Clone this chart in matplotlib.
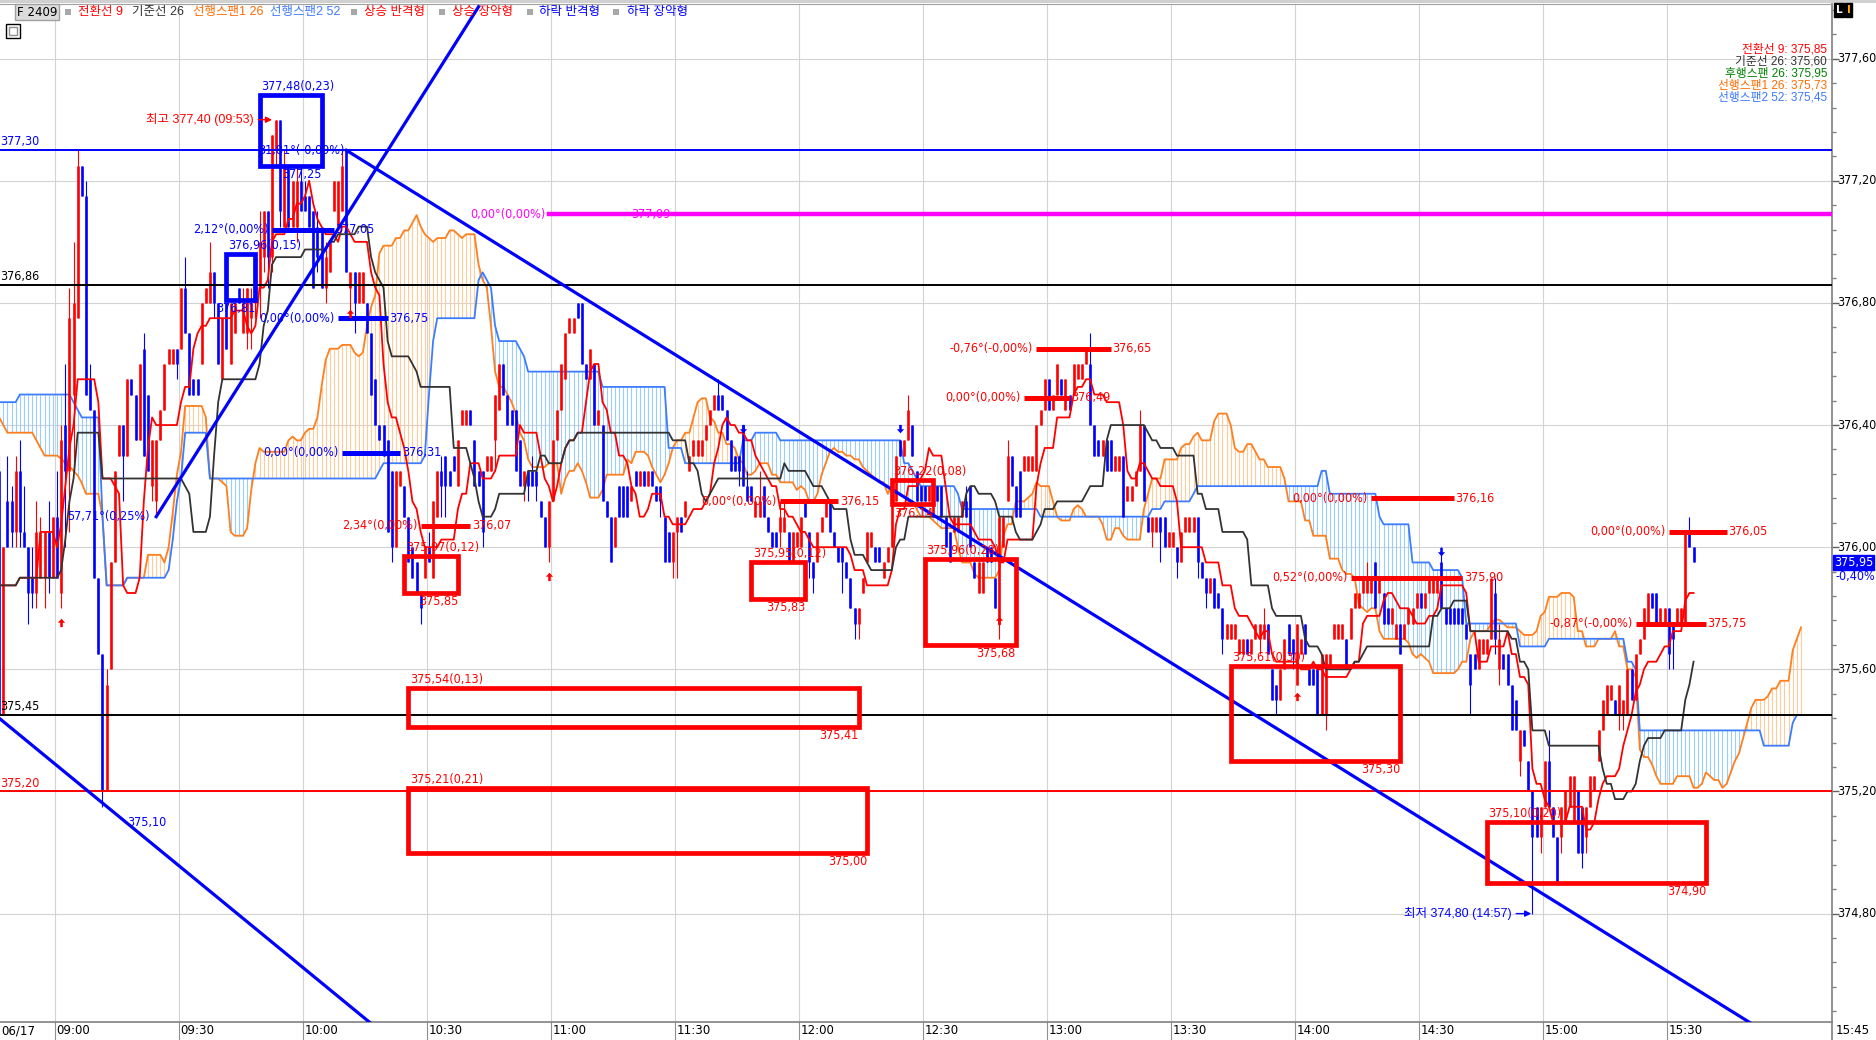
import numpy as np
import pandas as pd
import matplotlib
matplotlib.use("Agg")
import matplotlib.pyplot as plt
from matplotlib import font_manager
from matplotlib.font_manager import FontProperties
from matplotlib.patches import Rectangle
from matplotlib.ticker import MultipleLocator
from matplotlib.transforms import blended_transform_factory

# F 2409, 06/17, one-minute bars from 08:45.
# prices are kept as ticks of 0.05 above 374.00
PRICE_BASE = 374.00
TICK = 0.05
SESSION_START = "08:45"

opens = [
    42, 45, 29, 43, 43, 41, 45, 41, 40, 38, 37, 38, 38, 41, 38,  # 08:45
    42, 37, 48, 45, 50, 55, 65, 63, 51, 49, 38, 33, 24, 32, 39,  # 09:00
    46, 48, 46, 51, 50, 47, 53, 50, 44, 43, 47, 49, 52, 52, 53,  # 09:15
    53, 57, 54, 51, 51, 52, 56, 56, 58, 56, 51, 56, 52, 54, 57,  # 09:30
    54, 54, 55, 56, 57, 59, 62, 59, 66, 68, 61, 65, 61, 61, 64,  # 09:45
    63, 63, 62, 61, 61, 57, 58, 62, 61, 62, 66, 57, 58, 56, 56,  # 10:00
    56, 54, 51, 48, 48, 47, 45, 40, 44, 44, 42, 40, 39, 37, 38,  # 10:15
    40, 38, 42, 45, 46, 45, 46, 44, 48, 48, 49, 47, 45, 45, 45,  # 10:30
    45, 47, 49, 52, 50, 49, 49, 47, 44, 45, 45, 45, 43, 42, 40,  # 10:45
    43, 47, 49, 51, 54, 54, 56, 56, 52, 51, 52, 48, 48, 43, 42,  # 11:00
    40, 44, 44, 44, 43, 45, 44, 45, 44, 45, 44, 44, 42, 41, 39,  # 11:15
    41, 42, 42, 45, 46, 46, 46, 47, 48, 49, 50, 50, 49, 47, 46,  # 11:30
    46, 48, 44, 44, 42, 42, 44, 42, 41, 41, 41, 41, 41, 39, 40,  # 11:45
    40, 43, 41, 39, 39, 41, 42, 43, 41, 40, 40, 39, 38, 36, 35,  # 12:00
    37, 39, 40, 40, 40, 38, 39, 40, 43, 47, 46, 47, 48, 45, 44,  # 12:15
    44, 43, 42, 44, 44, 42, 41, 41, 41, 42, 43, 44, 39, 37, 37,  # 12:30
    40, 40, 38, 35, 40, 43, 46, 44, 45, 45, 45, 45, 45, 48, 49,  # 12:45
    51, 49, 50, 51, 49, 50, 50, 51, 51, 52, 52, 48, 47, 46, 47,  # 13:00
    47, 45, 45, 46, 43, 43, 44, 45, 48, 42, 41, 41, 42, 42, 40,  # 13:15
    40, 40, 39, 41, 41, 41, 42, 39, 38, 37, 38, 37, 36, 34, 34,  # 13:30
    34, 33, 33, 34, 33, 34, 34, 34, 35, 32, 31, 30, 32, 35, 34,  # 13:45
    31, 33, 35, 32, 32, 32, 29, 29, 32, 34, 34, 34, 34, 34, 36,  # 14:00
    36, 37, 37, 37, 39, 37, 37, 36, 35, 34, 35, 34, 35, 35, 36,  # 14:15
    37, 36, 37, 37, 37, 39, 36, 36, 36, 36, 36, 35, 33, 33, 32,  # 14:30
    33, 33, 34, 37, 32, 33, 33, 31, 30, 26, 28, 26, 24, 23, 21,  # 14:45
    23, 26, 23, 21, 21, 22, 23, 22, 24, 23, 21, 23, 24, 26, 28,  # 15:00
    29, 30, 30, 29, 29, 29, 32, 30, 33, 34, 35, 37, 37, 35, 35,  # 15:15
    36, 35, 35, 35, 35, 41, 40,                                  # 15:30
]
highs = [
    45, 46, 40, 46, 44, 46, 47, 44, 40, 40, 43, 42, 41, 43, 42,
    45, 48, 52, 57, 60, 66, 65, 64, 52, 49, 38, 33, 32, 39, 45,
    48, 48, 51, 51, 50, 52, 54, 50, 47, 47, 49, 52, 53, 53, 53,
    57, 59, 54, 51, 51, 56, 57, 60, 58, 56, 55, 56, 56, 56, 57,
    57, 57, 57, 58, 62, 62, 62, 67, 68, 68, 66, 65, 64, 65, 65,
    64, 63, 62, 62, 61, 60, 60, 64, 64, 66, 66, 58, 58, 58, 58,
    56, 54, 51, 48, 48, 47, 45, 45, 45, 44, 42, 40, 39, 37, 40,
    41, 43, 45, 46, 46, 45, 46, 47, 49, 49, 49, 47, 45, 45, 46,
    46, 50, 52, 52, 50, 49, 49, 47, 45, 45, 46, 45, 43, 42, 43,
    47, 49, 52, 54, 55, 55, 56, 56, 52, 53, 52, 49, 48, 43, 42,
    42, 44, 44, 44, 44, 45, 45, 45, 45, 45, 44, 44, 42, 41, 41,
    42, 42, 43, 46, 47, 47, 47, 48, 49, 50, 51, 50, 49, 47, 46,
    46, 48, 45, 44, 43, 45, 44, 42, 41, 41, 43, 43, 41, 41, 41,
    42, 43, 41, 39, 41, 42, 43, 43, 41, 40, 40, 39, 38, 36, 36,
    38, 41, 41, 40, 40, 39, 40, 43, 46, 47, 47, 50, 48, 45, 44,
    44, 44, 43, 44, 44, 42, 41, 42, 42, 43, 44, 44, 39, 39, 39,
    40, 40, 38, 42, 42, 47, 46, 44, 45, 46, 46, 46, 48, 49, 51,
    51, 50, 52, 51, 51, 50, 52, 52, 52, 53, 54, 48, 47, 47, 47,
    47, 46, 46, 46, 44, 44, 45, 49, 48, 42, 42, 42, 42, 42, 41,
    41, 40, 41, 42, 42, 42, 42, 39, 38, 38, 38, 37, 36, 35, 35,
    35, 34, 34, 34, 34, 35, 35, 36, 35, 32, 31, 32, 34, 35, 34,
    35, 34, 35, 32, 32, 32, 33, 33, 33, 35, 35, 35, 34, 36, 37,
    37, 38, 39, 38, 39, 38, 37, 36, 36, 35, 35, 35, 36, 36, 37,
    37, 37, 38, 38, 38, 40, 36, 36, 36, 36, 36, 35, 33, 33, 34,
    34, 34, 38, 38, 35, 33, 33, 31, 30, 28, 28, 26, 24, 23, 23,
    26, 28, 23, 21, 23, 24, 25, 25, 24, 23, 23, 25, 25, 28, 30,
    31, 31, 30, 31, 30, 32, 32, 33, 34, 36, 37, 37, 37, 36, 36,
    36, 35, 36, 36, 41, 42, 40,
]
lows = [
    39, 29, 29, 40, 40, 40, 40, 40, 35, 36, 36, 38, 36, 37, 38,
    38, 36, 40, 41, 45, 55, 63, 50, 49, 38, 33, 23, 24, 32, 39,
    46, 43, 46, 50, 47, 47, 46, 45, 43, 42, 47, 49, 52, 52, 51,
    53, 54, 50, 50, 50, 52, 56, 56, 55, 52, 51, 53, 52, 54, 56,
    54, 53, 53, 55, 55, 58, 57, 58, 65, 61, 61, 61, 61, 60, 62,
    62, 61, 57, 58, 57, 56, 58, 62, 61, 62, 58, 55, 54, 56, 56,
    54, 50, 48, 47, 46, 41, 39, 40, 44, 42, 39, 38, 37, 35, 38,
    39, 38, 42, 42, 42, 44, 45, 44, 48, 48, 48, 44, 44, 40, 45,
    45, 45, 49, 50, 48, 48, 45, 44, 43, 43, 44, 43, 42, 40, 39,
    43, 47, 49, 51, 54, 54, 55, 52, 51, 51, 48, 48, 43, 42, 39,
    40, 42, 42, 42, 43, 44, 44, 44, 44, 44, 43, 42, 39, 39, 38,
    38, 41, 42, 45, 46, 46, 46, 47, 48, 49, 49, 49, 47, 45, 45,
    44, 44, 43, 43, 42, 42, 42, 41, 40, 40, 40, 41, 39, 39, 40,
    40, 42, 38, 37, 39, 41, 42, 41, 40, 39, 37, 38, 36, 34, 34,
    37, 39, 40, 39, 39, 38, 39, 40, 43, 46, 46, 47, 46, 43, 43,
    43, 43, 42, 43, 42, 40, 39, 41, 41, 42, 42, 40, 38, 37, 37,
    39, 39, 36, 34, 40, 43, 44, 42, 42, 45, 45, 45, 45, 48, 49,
    49, 49, 50, 50, 49, 49, 50, 51, 51, 52, 48, 46, 46, 46, 45,
    45, 45, 45, 42, 43, 43, 44, 45, 43, 41, 40, 41, 39, 40, 40,
    40, 38, 39, 41, 41, 41, 38, 38, 36, 37, 36, 36, 33, 34, 34,
    34, 33, 33, 33, 33, 34, 33, 34, 33, 30, 29, 30, 32, 33, 32,
    31, 33, 33, 31, 31, 29, 29, 28, 32, 34, 34, 34, 32, 34, 36,
    36, 37, 37, 37, 36, 37, 35, 35, 35, 34, 33, 34, 35, 35, 36,
    36, 36, 37, 37, 37, 36, 35, 35, 35, 35, 35, 34, 29, 32, 32,
    33, 33, 34, 33, 31, 32, 31, 28, 28, 25, 27, 24, 16, 21, 20,
    23, 23, 21, 18, 20, 22, 23, 22, 20, 19, 20, 23, 24, 26, 28,
    29, 30, 29, 28, 28, 29, 30, 30, 33, 34, 35, 36, 35, 35, 35,
    32, 32, 35, 35, 35, 40, 39,
]
closes = [
    41, 29, 40, 40, 41, 45, 41, 40, 37, 37, 41, 41, 41, 38, 42,
    38, 47, 45, 55, 56, 65, 63, 50, 49, 38, 33, 24, 31, 39, 45,
    48, 46, 51, 50, 47, 52, 46, 45, 47, 47, 49, 52, 53, 53, 52,
    57, 54, 50, 50, 50, 56, 57, 58, 56, 52, 55, 53, 56, 56, 56,
    56, 57, 56, 58, 60, 62, 59, 67, 68, 62, 65, 61, 64, 64, 62,
    62, 61, 57, 59, 57, 59, 60, 64, 64, 65, 58, 58, 56, 58, 58,
    54, 50, 48, 47, 46, 41, 40, 45, 45, 42, 39, 38, 37, 36, 40,
    39, 43, 45, 44, 44, 44, 45, 47, 49, 49, 48, 44, 44, 41, 46,
    46, 50, 52, 50, 48, 48, 45, 44, 45, 44, 44, 44, 42, 40, 43,
    47, 49, 52, 54, 55, 55, 55, 52, 51, 53, 48, 49, 43, 42, 39,
    42, 42, 42, 42, 44, 44, 45, 44, 45, 44, 43, 43, 39, 39, 41,
    42, 41, 43, 46, 47, 47, 47, 48, 49, 50, 49, 49, 47, 45, 45,
    45, 44, 43, 43, 43, 43, 42, 41, 40, 40, 42, 42, 39, 41, 41,
    42, 42, 39, 38, 41, 42, 43, 41, 40, 39, 39, 38, 36, 35, 36,
    38, 41, 41, 39, 39, 39, 40, 43, 46, 46, 47, 49, 46, 43, 43,
    43, 44, 43, 43, 42, 40, 39, 42, 42, 43, 42, 40, 38, 39, 39,
    39, 39, 36, 42, 42, 46, 44, 42, 42, 46, 46, 46, 48, 49, 51,
    49, 50, 52, 50, 51, 49, 52, 52, 52, 53, 48, 46, 46, 47, 45,
    45, 46, 46, 42, 44, 44, 45, 48, 43, 41, 42, 42, 41, 40, 41,
    41, 39, 41, 42, 42, 42, 39, 38, 37, 38, 36, 36, 34, 35, 35,
    35, 34, 34, 33, 34, 35, 35, 35, 33, 30, 30, 32, 34, 33, 33,
    35, 34, 33, 31, 31, 29, 33, 33, 33, 35, 35, 35, 32, 36, 37,
    37, 38, 38, 38, 36, 38, 35, 35, 36, 35, 33, 35, 36, 36, 37,
    36, 37, 38, 38, 38, 36, 35, 35, 35, 35, 35, 34, 31, 32, 34,
    34, 34, 38, 34, 34, 32, 31, 28, 28, 28, 27, 24, 21, 21, 23,
    26, 23, 21, 18, 23, 24, 25, 25, 20, 20, 23, 25, 25, 28, 30,
    31, 31, 29, 31, 30, 32, 30, 33, 34, 36, 37, 36, 35, 36, 36,
    33, 34, 36, 36, 41, 40, 39,
]

# leading spans for 08:45-09:10 come from the previous session
span1_carry = [48.5, 48.5, 48, 47.5, 47.5, 47.5, 47.5, 47.5, 47.5, 47.5, 47, 46.5, 46,
               46, 46, 46, 45.8, 45.5, 45.3, 45, 44.7, 44.2, 43.5, 43.5, 43.5, 43.5]
span2_carry = [49.5, 49.5, 49.5, 49.5, 49.5, 49.5, 50, 50, 50, 50, 50, 50, 50,
               50, 50, 50, 50, 50, 50, 49.5, 49, 48.5, 48.5, 48.5, 48.5, 48.5]

price_ticks = [374.80, 375.20, 375.60, 376.00, 376.40, 376.80, 377.20, 377.60]
time_labels = ["09:00", "09:30", "10:00", "10:30", "11:00", "11:30", "12:00",
               "12:30", "13:00", "13:30", "14:00", "14:30", "15:00", "15:30"]

# full width horizontal lines
levels = [(377.30, "#0000FF", "377,30"), (376.86, "black", "376,86"),
          (375.45, "black", "375,45"), (375.20, "#FF0000", "375,20")]

# drawn trend lines: (time, price) -> (time, price)
trend_lines = [(("08:46", 375.44), ("10:16", 374.44)),
               (("09:24", 376.10), ("10:42", 377.77)),
               (("10:10", 377.30), ("15:50", 374.44))]

# angle lines: start, end, price, left text, right text, colour
segments = [
    ("09:52", "10:07", 377.04, "2,12°(0,00%)", "377,05", "#0000FF"),
    ("10:08", "10:20", 376.75, "0,00°(0,00%)", "376,75", "#0000FF"),
    ("10:09", "10:23", 376.31, "0,00°(0,00%)", "376,31", "#0000FF"),
    ("10:28", "10:40", 376.07, "2,34°(0,00%)", "376,07", "#FF0000"),
    ("11:55", "12:09", 376.15, "0,00°(0,00%)", "376,15", "#FF0000"),
    ("12:57", "13:15", 376.65, "-0,76°(-0,00%)", "376,65", "#FF0000"),
    ("12:54", "13:05", 376.49, "0,00°(0,00%)", "376,49", "#FF0000"),
    ("14:18", "14:38", 376.16, "0,00°(0,00%)", "376,16", "#FF0000"),
    ("14:13", "14:40", 375.90, "0,52°(0,00%)", "375,90", "#FF0000"),
    ("15:30", "15:44", 376.05, "0,00°(0,00%)", "376,05", "#FF0000"),
    ("15:22", "15:39", 375.75, "-0,87°(-0,00%)", "375,75", "#FF0000"),
]

# range boxes: start, end, low, high, top text, bottom text, colour
boxes = [
    ("09:49", "10:04", 377.25, 377.48, "377,48(0,23)", "377,25", "#0000FF"),
    ("09:41", "09:48", 376.81, 376.96, "376,96(0,15)", "376,81", "#0000FF"),
    ("10:24", "10:37", 375.85, 375.97, "375,97(0,12)", "375,85", "#FF0000"),
    ("10:25", "12:14", 375.41, 375.54, "375,54(0,13)", "375,41", "#FF0000"),
    ("10:25", "12:16", 375.00, 375.21, "375,21(0,21)", "375,00", "#FF0000"),
    ("11:48", "12:01", 375.83, 375.95, "375,95(0,12)", "375,83", "#FF0000"),
    ("12:22", "12:32", 376.14, 376.22, "376,22(0,08)", "376,14", "#FF0000"),
    ("12:30", "12:52", 375.68, 375.96, "375,96(0,28)", "375,68", "#FF0000"),
    ("13:44", "14:25", 375.30, 375.61, "375,61(0,30)", "375,30", "#FF0000"),
    ("14:46", "15:39", 374.90, 375.10, "375,10(0,20)", "374,90", "#FF0000"),
]

# pattern signals
rebound_up = [("09:01", 375.75), ("10:11", 376.76), ("10:59", 375.90),
              ("12:48", 375.755), ("14:00", 375.505)]
rebound_down = [("11:46", 376.394), ("12:24", 376.394), ("14:35", 375.99)]

last_values = [("전환선 9: 375,85", "#FF0000"), ("기준선 26: 375,60", "#333333"),
               ("후행스팬 26: 375,95", "#008000"), ("선행스팬1 26: 375,73", "#FF6A00"),
               ("선행스팬2 52: 375,45", "#3C78FF")]

RED = "#FF0000"
BLUE = "#0000FF"
W, H = 1876, 1040


def to_price(t):
    return PRICE_BASE + TICK * np.asarray(t, dtype=float)


def bar_x(hhmm):
    h, m = map(int, hhmm.split(":"))
    h0, m0 = map(int, SESSION_START.split(":"))
    return h * 60 + m - (h0 * 60 + m0)


def fig_xy(x, y):
    return x / W, 1 - y / H


def comma(v):
    return f"{v:.2f}".replace(".", ",")


# a narrow font for the numbers, like the trading screen uses
narrow_path = None
for key in ("LiberationSansNarrow-Regular", "DejaVuSansCondensed.ttf",
            "RobotoCondensed-Regular", "OpenSans_Condensed-Regular"):
    for f in font_manager.fontManager.ttflist:
        if key in f.fname:
            narrow_path = f.fname
            break
    if narrow_path:
        break
if narrow_path:
    NUM = FontProperties(fname=narrow_path)
    NS = 1.0 if "Liberation" in narrow_path else 0.9
else:
    NUM = FontProperties(family="Liberation Sans")
    NS = 0.82
MIX = ["Liberation Sans", "Noto Sans CJK KR", "DejaVu Sans"]

o, h, l, c = (to_price(v) for v in (opens, highs, lows, closes))
h = np.maximum.reduce([h, o, c])
l = np.minimum.reduce([l, o, c])

df = pd.DataFrame({"high": h, "low": l})


def mid(n):
    hi = df["high"].rolling(n, min_periods=1).max()
    lo = df["low"].rolling(n, min_periods=1).min()
    return ((hi + lo) / 2).to_numpy()


conv = mid(9)
base = mid(26)
lead1 = np.concatenate([to_price(span1_carry), (conv + base) / 2])
lead2 = np.concatenate([to_price(span2_carry), mid(52)])
xs = np.arange(len(c))
xl = np.arange(len(lead1))

fig = plt.figure(figsize=(W / 100, H / 100), dpi=100)
fig.patch.set_facecolor("white")
ax = fig.add_axes([0, 18 / H, 1832 / W, 1018 / H])
ax.set_xlim(1.2, 444.5)
ax.set_ylim(374.445, 377.779)


def num_text(x, y, s, color="black", size=10, **kw):
    return ax.text(x, y, s, color=color, fontproperties=NUM, fontsize=size * NS, zorder=7, **kw)


# grid
for p in price_ticks:
    ax.axhline(p, color="#D3D3D3", lw=0.8, zorder=0.5)
for t in time_labels:
    ax.axvline(bar_x(t) - 0.5, color="#D3D3D3", lw=0.8, zorder=0.5)

# ichimoku cloud
lo = np.minimum(lead1, lead2)
hi = np.maximum(lead1, lead2)
hatch = np.where(lead1 >= lead2, "#FFCC99", "#99CCFF")
ax.vlines(xl, lo, hi, colors=hatch, lw=0.8, zorder=1)
ax.plot(xl, lead1, color="#FF7F1E", lw=1.3, zorder=2)
ax.plot(xl, lead2, color="#3C7DFF", lw=1.3, zorder=2)

# candles
col = np.where(c < o, BLUE, RED)
ax.vlines(xs, l, h, colors=col, lw=0.8, zorder=3)
body_lo = np.minimum(o, c)
body_hi = np.maximum(np.maximum(o, c), body_lo + 0.006)
ax.vlines(xs, body_lo, body_hi, colors=col, lw=1.9, zorder=3.1)

ax.plot(xs, conv, color=RED, lw=1.3, zorder=4)
ax.plot(xs, base, color="#333333", lw=1.3, zorder=4)

# horizontal levels
for p, color, label in levels:
    ax.axhline(p, color=color, lw=1.4, zorder=5)
    num_text(1.3, p + 0.006, label, color, ha="left", va="bottom")

# magenta level
ax.plot([bar_x("10:59"), 444.5], [377.09, 377.09], color="#FF00FF", lw=3.2, zorder=5)
num_text(bar_x("10:59") - 0.8, 377.09, "0,00°(0,00%)", "#FF00FF", ha="right", va="center")
num_text(bar_x("11:19"), 377.09, "377,09", "#FF00FF", ha="left", va="center")

# trend lines
for (t0, p0), (t1, p1) in trend_lines:
    ax.plot([bar_x(t0), bar_x(t1)], [p0, p1], color=BLUE, lw=2.3, zorder=5)
num_text(bar_x("09:23") - 0.5, 376.10, "57,71°(0,25%)", BLUE, ha="right", va="center")
num_text(bar_x("10:10") - 0.5, 377.30, "31,81°(-0,09%)", BLUE, ha="right", va="center")
num_text(bar_x("09:17"), 375.10, "375,10", BLUE, ha="left", va="center")

for t0, t1, p, left, right, color in segments:
    x0, x1 = bar_x(t0), bar_x(t1)
    ax.plot([x0, x1], [p, p], color=color, lw=3.6, solid_capstyle="butt", zorder=6)
    num_text(x0 - 0.8, p, left, color, ha="right", va="center")
    num_text(x1 + 0.4, p, right, color, ha="left", va="center")

for t0, t1, p_lo, p_hi, top, bottom, color in boxes:
    x0, x1 = bar_x(t0), bar_x(t1)
    ax.add_patch(Rectangle((x0, p_lo), x1 - x0, p_hi - p_lo, fill=False,
                           edgecolor=color, lw=3.4, zorder=6))
    num_text(x0 + 0.4, p_hi + 0.007, top, color, ha="left", va="bottom")
    num_text(x1, p_lo - 0.007, bottom, color, ha="right", va="top")

# high / low marks
ax.annotate("", xy=(bar_x("09:53") - 0.3, 377.40), xytext=(bar_x("09:53") - 5, 377.40),
            arrowprops=dict(arrowstyle="-|>", color=RED, lw=1, mutation_scale=9), zorder=7)
ax.text(bar_x("09:53") - 5.5, 377.40, "최고 377,40 (09:53)", color=RED, ha="right",
        va="center", fontsize=9, family=MIX, zorder=7)
ax.annotate("", xy=(bar_x("14:57") + 0.4, 374.80), xytext=(bar_x("14:57") - 4.6, 374.80),
            arrowprops=dict(arrowstyle="-|>", color=BLUE, lw=1, mutation_scale=9), zorder=7)
ax.text(bar_x("14:57") - 5, 374.80, "최저 374,80 (14:57)", color=BLUE, ha="right",
        va="center", fontsize=9, family=MIX, zorder=7)

arrow_up = [(0, 1), (-0.62, 0.3), (-0.22, 0.3), (-0.22, -0.45), (0.22, -0.45),
            (0.22, 0.3), (0.62, 0.3), (0, 1)]
arrow_down = [(x, -y) for x, y in arrow_up]
ax.scatter([bar_x(t) for t, _ in rebound_up], [p for _, p in rebound_up],
           marker=arrow_up, s=70, color=RED, zorder=7, linewidths=0)
ax.scatter([bar_x(t) for t, _ in rebound_down], [p for _, p in rebound_down],
           marker=arrow_down, s=70, color=BLUE, zorder=7, linewidths=0)

# axes
ax.spines["left"].set_visible(False)
ax.spines["top"].set_color("#A0A0A0")
ax.spines["right"].set_color("#808080")
ax.spines["bottom"].set_color("#808080")
ax.spines["right"].set_linewidth(1.2)
ax.spines["bottom"].set_linewidth(1.2)

ax.set_xticks([])
ax.yaxis.tick_right()
ax.set_yticks(price_ticks)
ax.yaxis.set_minor_locator(MultipleLocator(0.08))
ax.tick_params(axis="y", which="major", length=5, width=1, color="#606060", labelright=False)
ax.tick_params(axis="y", which="minor", length=3, width=1, color="#808080")

yb = blended_transform_factory(ax.transAxes, ax.transData)
for p in price_ticks:
    num_text(1.003, p, comma(p), ha="left", va="center", size=10, transform=yb)

xb = blended_transform_factory(ax.transData, ax.transAxes)
for t in time_labels:
    gx = bar_x(t) - 0.5
    ax.plot([gx, gx], [0, -18 / 1018], transform=xb, color="#909090", lw=0.8, clip_on=False)
    num_text(gx + 0.4, -9 / 1018, t, ha="left", va="center", size=10.5, transform=xb)
num_text(0.0005, -9 / 1018, "06/17", ha="left", va="center", size=10.5,
         transform=ax.transAxes, fontweight="bold")
ax.plot([1, 1], [0, -18 / 1018], transform=ax.transAxes, color="#808080", lw=1.2, clip_on=False)
num_text(1.002, -9 / 1018, "15:45", ha="left", va="center", size=10.5, transform=ax.transAxes)

num_text(1.0012, c[-1], comma(c[-1]), "white", ha="left", va="center", size=10,
         transform=yb, bbox=dict(boxstyle="square,pad=0.08", facecolor=BLUE, edgecolor=BLUE))
num_text(1.002, 375.905, "-0,40%", BLUE, ha="left", va="center", size=10, transform=yb)

# top strip, legend and value list
fig.patches.append(Rectangle((0, 1 - 3 / H), 1, 3 / H, transform=fig.transFigure,
                             facecolor="#D0D0D0", edgecolor="none"))
x, y = fig_xy(17, 12)
fig.text(x, y, "F 2409", ha="left", va="center", fontproperties=NUM, fontsize=10.5 * NS,
         bbox=dict(boxstyle="square,pad=0.15", facecolor="#DCDCDC", edgecolor="#A0A0A0"))
legend = [("전환선 9", RED, 78), ("기준선 26", "#333333", 132), ("선행스팬1 26", "#FF6A00", 193),
          ("선행스팬2 52", "#3C78FF", 270), ("상승 반격형", RED, 364), ("상승 장악형", RED, 452),
          ("하락 반격형", BLUE, 539), ("하락 장악형", BLUE, 627)]
for sx in (65, 351, 439, 527, 613):
    fig.patches.append(Rectangle(fig_xy(sx, 15), 6 / W, 6 / H, transform=fig.transFigure,
                                 facecolor="#A8A8A8", edgecolor="none"))
for label, color, lx in legend:
    x, y = fig_xy(lx, 12)
    fig.text(x, y, label, color=color, ha="left", va="center", fontsize=9, family=MIX)

fig.patches.append(Rectangle(fig_xy(6, 38), 14 / W, 14 / H, transform=fig.transFigure,
                             facecolor="white", edgecolor="black", lw=1))
fig.patches.append(Rectangle(fig_xy(9, 35), 8 / W, 8 / H, transform=fig.transFigure,
                             facecolor="white", edgecolor="#909090", lw=1))

for i, (label, color) in enumerate(last_values):
    x, y = fig_xy(1827, 50 + 12 * i)
    fig.text(x, y, label, color=color, ha="right", va="center", fontsize=8.5, family=MIX)

for letter, color, lx in (("L", "white", 1836), ("I", "#FFB000", 1847)):
    x, y = fig_xy(lx, 10)
    fig.text(x, y, letter, color=color, ha="left", va="center", fontsize=7.5,
             fontweight="bold", family="DejaVu Sans",
             bbox=dict(boxstyle="square,pad=0.15", facecolor="black", edgecolor="black"))

fig.savefig("out.png", dpi=100)
